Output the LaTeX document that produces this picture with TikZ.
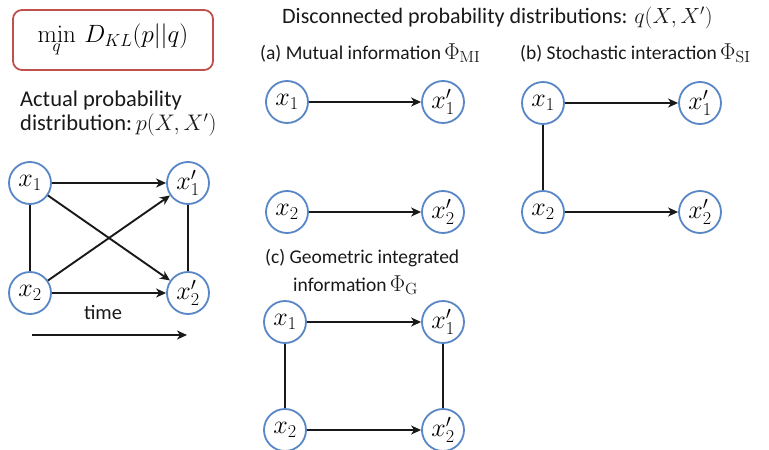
\RequirePackage{fix-cm}
\documentclass[tikz,border=0pt]{standalone}
\usepackage[no-math]{fontspec}
\setmainfont{Carlito}
\usetikzlibrary{arrows.meta}
\definecolor{nodeblue}{RGB}{88,134,198}
\definecolor{boxred}{RGB}{192,80,77}
\definecolor{ink}{RGB}{25,25,25}
\begin{document}
\begin{tikzpicture}[x=1pt,y=-1pt,
  nd/.style={circle,draw=nodeblue,line width=1.8pt,fill=white,minimum size=42pt,
    inner sep=0pt,font=\fontsize{26}{26}\selectfont},
  arr/.style={draw=ink,line width=1.9pt,-{Stealth[length=10pt,width=9pt,inset=3pt]}},
  lnk/.style={draw=ink,line width=1.9pt},
  bigtxt/.style={anchor=west,inner sep=0pt,text=ink,font=\fontsize{22.5}{27}\selectfont},
  toptxt/.style={anchor=west,inner sep=0pt,text=ink,font=\fontsize{22}{26}\selectfont},
  labtxt/.style={anchor=west,inner sep=0pt,text=ink,font=\fontsize{19.5}{23}\selectfont}]
\useasboundingbox (0,0) rectangle (769,450);

% objective
\node[draw=boxred,line width=1.8pt,rounded corners=9pt,minimum width=200pt,
  minimum height=60pt,inner sep=0pt,font=\fontsize{25}{30}\selectfont] (obj) at (113,40)
  {$\displaystyle\mathop{\mathrm{min}}\limits_{q}\, D_{KL}(p||q)$};

% actual distribution
\node[bigtxt] (act1) at (20,100) {Actual probability};
\node[bigtxt] (act2) at (20,125) {distribution:\,$p(X,X')$};

\node[nd] (p1) at (30,183) {$x_1$};
\node[nd] (p2) at (30,293) {$x_2$};
\node[nd] (p1p) at (188,183) {$x_1'$};
\node[nd] (p2p) at (188,293) {$x_2'$};
\draw[lnk] (p1) -- (p2);
\draw[lnk] (p1p) -- (p2p);
\draw[arr] (p1) -- (p1p);
\draw[arr] (p2) -- (p2p);
\draw[arr] (p1) -- (p2p);
\draw[arr] (p2) -- (p1p);

\node[anchor=center,inner sep=0pt,text=ink,font=\fontsize{20.5}{24}\selectfont] (time) at (103,312) {time};
\coordinate (t0) at (32,335);
\coordinate (t1) at (187,335);
\draw[arr] (t0) -- (t1);

% disconnected distributions
\node[toptxt] (disc) at (282,18) {Disconnected probability distributions: $q(X,X')$};

% (a) mutual information
\node[labtxt] (laba) at (260,53) {(a) Mutual information\,{\fontsize{23}{27}\selectfont$\Phi_{\mathrm{MI}}$}};
\node[nd] (a1) at (287,102) {$x_1$};
\node[nd] (a1p) at (443,102) {$x_1'$};
\node[nd] (a2) at (287,212) {$x_2$};
\node[nd] (a2p) at (443,212) {$x_2'$};
\draw[arr] (a1) -- (a1p);
\draw[arr] (a2) -- (a2p);

% (b) stochastic interaction
\node[labtxt] (labb) at (520,53) {(b) Stochastic interaction\,{\fontsize{23}{27}\selectfont$\Phi_{\mathrm{SI}}$}};
\node[nd] (b1) at (543,103) {$x_1$};
\node[nd] (b1p) at (700,103) {$x_1'$};
\node[nd] (b2) at (543,212) {$x_2$};
\node[nd] (b2p) at (700,212) {$x_2'$};
\draw[lnk] (b1) -- (b2);
\draw[arr] (b1) -- (b1p);
\draw[arr] (b2) -- (b2p);

% (c) geometric integrated information
\node[labtxt] (labc1) at (265,258) {(c) Geometric integrated};
\node[labtxt] (labc2) at (293,285) {information\,{\fontsize{23}{27}\selectfont$\Phi_{\mathrm{G}}$}};
\node[nd] (c1) at (285,322) {$x_1$};
\node[nd] (c1p) at (443,322) {$x_1'$};
\node[nd] (c2) at (285,430) {$x_2$};
\node[nd] (c2p) at (443,430) {$x_2'$};
\draw[lnk] (c1) -- (c2);
\draw[lnk] (c1p) -- (c2p);
\draw[arr] (c1) -- (c1p);
\draw[arr] (c2) -- (c2p);
\end{tikzpicture}
\end{document}
